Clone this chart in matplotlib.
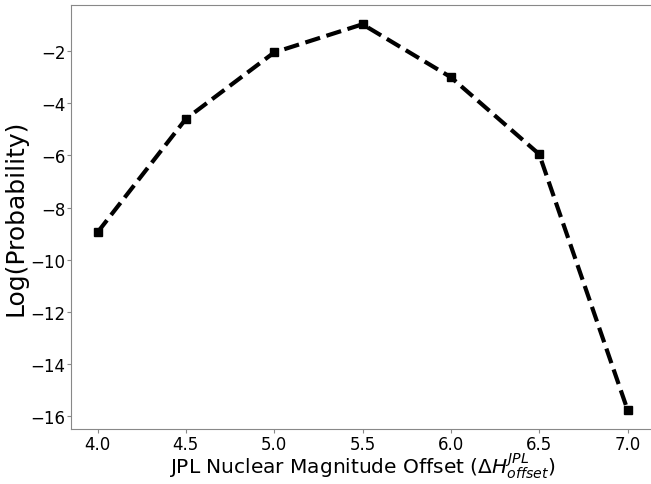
import matplotlib
matplotlib.use("Agg")
import matplotlib.pyplot as plt

offsets = [4.0, 4.5, 5.0, 5.5, 6.0, 6.5, 7.0]
log_prob = [-8.95, -4.6, -2.05, -0.97, -3.0, -5.95, -15.75]

fig = plt.figure(figsize=(6.51, 4.85), dpi=100)
ax = fig.add_axes([71/651, 1 - 430/485, (654 - 71)/651, (430 - 6)/485])
ax.plot(offsets, log_prob, 'k--', marker='s', markersize=6, linewidth=3)
ax.set_xlabel(r'JPL Nuclear Magnitude Offset ($\Delta H_{offset}^{JPL}$)', fontsize=14.5, labelpad=-1)
ax.set_ylabel('Log(Probability)', fontsize=18, labelpad=2)
ax.tick_params(labelsize=12, color='#888888', length=3, pad=1)
for s in ax.spines.values():
    s.set_color('#888888')
ax.set_xticks(offsets)
ax.set_yticks([-16, -14, -12, -10, -8, -6, -4, -2])
fig.savefig('out.png', dpi=100)
